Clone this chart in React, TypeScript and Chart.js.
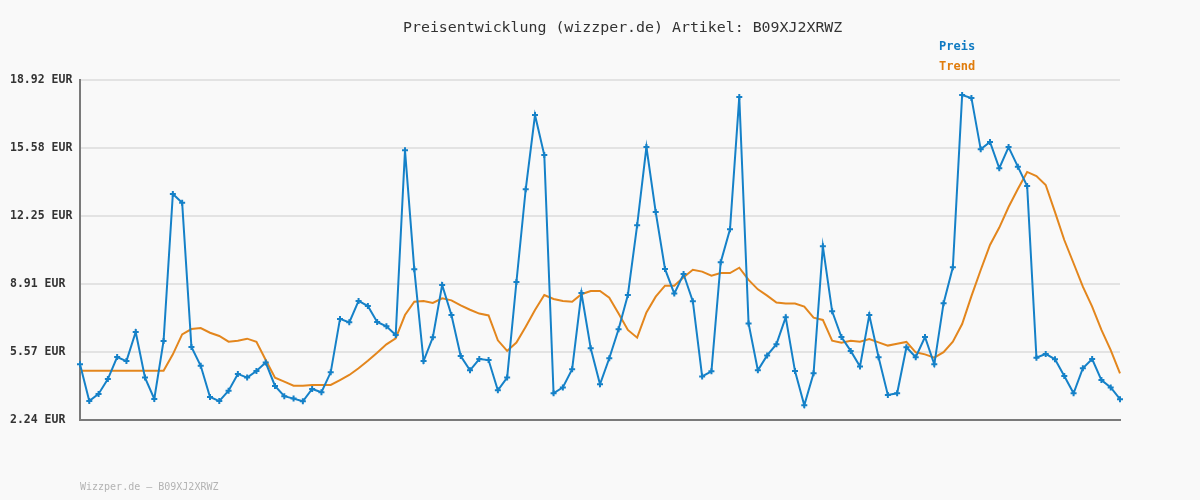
import React, { useEffect, useRef } from 'react';
import { Chart, registerables } from 'chart.js';

Chart.register(...registerables);

const TITLE = 'Preisentwicklung (wizzper.de) Artikel: B09XJ2XRWZ';
const FOOTER = 'Wizzper.de – B09XJ2XRWZ';
const SERIES_NAMES = ['Preis', 'Trend'];
const SERIES_COLORS = ['#1581c8', '#e3861d'];
const LEGEND_COLORS = ['#0f7ac2', '#e07c0c'];

const Y_TICKS = [2.24, 5.57, 8.91, 12.25, 15.58, 18.92];
const Y_TICK_LABELS = ['2.24 EUR', '5.57 EUR', '8.91 EUR', '12.25 EUR', '15.58 EUR', '18.92 EUR'];

const PREIS = [
  4.97, 3.17, 3.52, 4.25, 5.33, 5.13, 6.56, 4.32, 3.27, 6.12,
  13.33, 12.9, 5.82, 4.9, 3.37, 3.17, 3.68, 4.5, 4.32, 4.64,
  5.06, 3.91, 3.41, 3.29, 3.16, 3.76, 3.6, 4.58, 7.2, 7.03,
  8.08, 7.83, 7.05, 6.84, 6.41, 15.47, 9.63, 5.13, 6.3, 8.86,
  7.39, 5.38, 4.68, 5.23, 5.18, 3.7, 4.32, 9.01, 13.56, 17.2,
  15.24, 3.55, 3.84, 4.73, 8.47, 5.76, 3.99, 5.27, 6.69, 8.37,
  11.79, 15.63, 12.44, 9.65, 8.44, 9.4, 8.06, 4.38, 4.63, 9.98,
  11.6, 18.09, 6.98, 4.68, 5.41, 5.96, 7.28, 4.64, 2.96, 4.53,
  10.76, 7.57, 6.31, 5.63, 4.87, 7.39, 5.32, 3.47, 3.55, 5.81,
  5.32, 6.31, 4.97, 7.97, 9.73, 18.18, 18.04, 15.52, 15.88, 14.59,
  15.63, 14.67, 13.72, 5.3, 5.48, 5.22, 4.4, 3.55, 4.78, 5.23,
  4.2, 3.84, 3.26,
];

const TREND = [
  4.66, 4.66, 4.66, 4.66, 4.66, 4.66, 4.66, 4.66, 4.66, 4.66,
  5.46, 6.44, 6.7, 6.75, 6.52, 6.36, 6.08, 6.13, 6.23, 6.08,
  5.18, 4.32, 4.12, 3.92, 3.92, 3.96, 3.96, 3.96, 4.2, 4.45,
  4.78, 5.15, 5.54, 5.95, 6.25, 7.39, 8.04, 8.08, 7.98, 8.21,
  8.11, 7.86, 7.65, 7.46, 7.37, 6.15, 5.63, 6.04, 6.82, 7.64,
  8.37, 8.18, 8.08, 8.04, 8.41, 8.57, 8.57, 8.24, 7.47, 6.66,
  6.28, 7.52, 8.29, 8.83, 8.83, 9.24, 9.61, 9.52, 9.32, 9.45,
  9.45, 9.71, 9.11, 8.65, 8.34, 8.0, 7.95, 7.95, 7.8, 7.26,
  7.15, 6.13, 6.03, 6.13, 6.08, 6.21, 6.05, 5.89, 5.98, 6.07,
  5.56, 5.46, 5.3, 5.57, 6.08, 6.95, 8.32, 9.6, 10.83, 11.68,
  12.69, 13.57, 14.41, 14.21, 13.77, 12.44, 11.07, 9.93, 8.78, 7.8,
  6.66, 5.67, 4.53,
];

// x categories: one per observation (the reference shows no x labels)
const CATEGORIES = PREIS.map((_, i) => String(i + 1));

const MONO = "'DejaVu Sans Mono', 'Liberation Mono', monospace";

const decorPlugin = {
  id: 'decor',
  beforeDraw(chart: any) {
    const { ctx, width, height } = chart;
    ctx.save();
    ctx.fillStyle = '#f9f9f9';
    ctx.fillRect(0, 0, width, height);
    ctx.restore();
  },
  afterDraw(chart: any) {
    const { ctx } = chart;
    ctx.save();
    ctx.textBaseline = 'middle';
    ctx.textAlign = 'left';
    ctx.fillStyle = '#333333';
    ctx.font = `14.9px ${MONO}`;
    ctx.fillText(TITLE, 403, 28);

    ctx.font = `bold 12px ${MONO}`;
    ctx.fillStyle = LEGEND_COLORS[0];
    ctx.fillText(SERIES_NAMES[0], 939, 47);
    ctx.fillStyle = LEGEND_COLORS[1];
    ctx.fillText(SERIES_NAMES[1], 939, 67);

    ctx.font = `10px ${MONO}`;
    ctx.fillStyle = '#b3b3b3';
    ctx.fillText(FOOTER, 80, 487);
    ctx.restore();
  },
};

export default function App() {
  const canvasRef = useRef<HTMLCanvasElement | null>(null);

  useEffect(() => {
    const canvas = canvasRef.current;
    if (!canvas) return;
    const chart = new Chart(canvas, {
      type: 'line',
      data: {
        labels: CATEGORIES,
        datasets: [
          {
            label: SERIES_NAMES[0],
            data: PREIS,
            borderColor: SERIES_COLORS[0],
            backgroundColor: SERIES_COLORS[0],
            borderWidth: 2,
            pointStyle: 'cross',
            pointRadius: 3,
            pointBorderWidth: 2,
            pointBorderColor: SERIES_COLORS[0],
            tension: 0,
            fill: false,
          },
          {
            label: SERIES_NAMES[1],
            data: TREND,
            borderColor: SERIES_COLORS[1],
            backgroundColor: SERIES_COLORS[1],
            borderWidth: 2,
            pointRadius: 0,
            tension: 0,
            fill: false,
          },
        ],
      },
      options: {
        responsive: false,
        animation: false,
        layout: { padding: { top: 80, right: 80, bottom: 80, left: 10 } },
        plugins: {
          legend: { display: false },
          title: { display: false },
          tooltip: { enabled: false },
        },
        scales: {
          x: {
            type: 'category',
            offset: false,
            grid: { display: false, drawTicks: false },
            ticks: { display: false },
            border: { display: true, color: '#7a7a7a', width: 2 },
            afterFit: (s: any) => {
              s.height = 0;
            },
          },
          y: {
            type: 'linear',
            min: Y_TICKS[0],
            max: Y_TICKS[Y_TICKS.length - 1],
            afterBuildTicks: (s: any) => {
              s.ticks = Y_TICKS.map((v) => ({ value: v }));
            },
            afterFit: (s: any) => {
              s.width = 70;
            },
            ticks: {
              callback: (_v: any, i: number) => Y_TICK_LABELS[i],
              font: { family: MONO, size: 11.5, weight: 'bold' },
              color: '#333333',
              crossAlign: 'far',
              autoSkip: false,
            },
            grid: { color: '#e3e3e3', lineWidth: 2, drawTicks: false },
            border: { display: true, color: '#7a7a7a', width: 2 },
          },
        },
      },
      plugins: [decorPlugin],
    } as any);
    return () => chart.destroy();
  }, []);

  return (
    <div style={{ position: 'fixed', left: 0, top: 0, width: 1200, height: 500 }}>
      <canvas ref={canvasRef} width={1200} height={500} style={{ display: 'block' }} />
    </div>
  );
}
